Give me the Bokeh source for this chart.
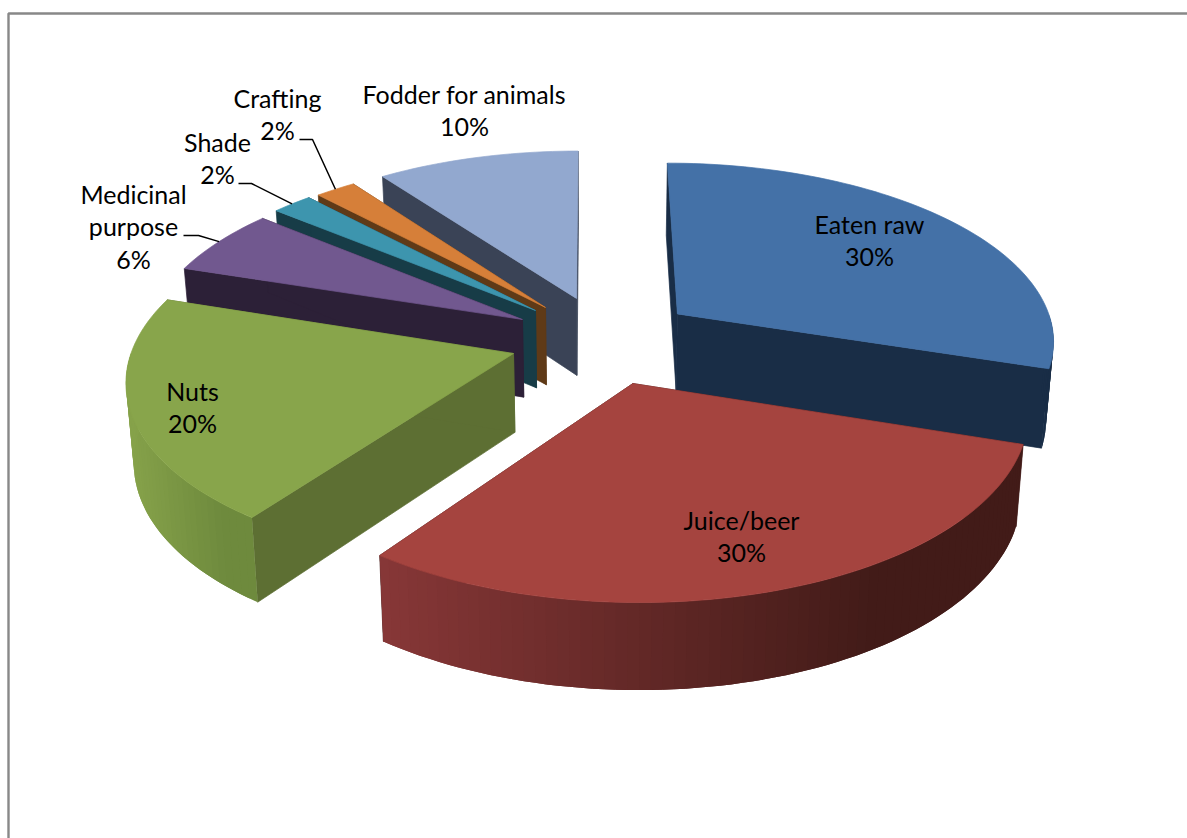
import math

from bokeh.core.properties import value
from bokeh.embed import file_html
from bokeh.models import ColumnDataSource
from bokeh.plotting import figure
from bokeh.resources import INLINE

# Share of each use, clockwise from twelve o'clock
categories = ["Eaten raw", "Juice/beer", "Nuts", "Medicinal purpose", "Shade", "Crafting", "Fodder for animals"]
percent = [30, 30, 20, 6, 2, 2, 10]

# Slice styling and how far each slice is pulled out, in units of the pie radius
top_color = ["#4471A7", "#A5443F", "#88A54B", "#71588F", "#3D95AE", "#D67F39", "#92A8CF"]
cut_color = ["#192D46", "#421B18", "#5D6F33", "#2C2037", "#173C47", "#5F3A17", "#3A4356"]
wall_left = ["#192D46", "#873737", "#86A24A", "#2C2037", "#173C47", "#5F3A17", "#3A4356"]
wall_right = ["#192D46", "#421B18", "#6E8A3D", "#2C2037", "#173C47", "#5F3A17", "#3A4356"]
explode_x = [0.2340, 0.1085, -0.2013, -0.1824, -0.1485, -0.1218, -0.0381]
explode_y = [0.1360, -0.2518, -0.0895, 0.1033, 0.1561, 0.1738, 0.2275]

# Projection of the pie's disc on to the page
CX, CY = 590, 337
RX, RY = 378, 176.6
PERSPECTIVE = 0.1325
WALL_STEP = 1.5  # degrees per wall facet


def project(x, y):
    scale = 1 + PERSPECTIVE * y
    return CX + RX * x / scale, CY - RY * y / scale


def drop(px, py):
    """Where a point of the top face lands on the underside of the pie."""
    return px - (px - 600) * 0.0165, py + 77 + 0.035 * (py - 300)


def rim(i, deg):
    t = math.radians(deg)
    return project(explode_x[i] + math.sin(t), explode_y[i] + math.cos(t))


def hex_mix(a, b, f):
    f = min(1, max(0, f))
    ca = [int(a[k:k + 2], 16) for k in (1, 3, 5)]
    cb = [int(b[k:k + 2], 16) for k in (1, 3, 5)]
    return "#%02x%02x%02x" % tuple(round(u + (v - u) * f) for u, v in zip(ca, cb))


edges = [0.0]
for share in percent:
    edges.append(edges[-1] + share * 3.6)

xs, ys, fills, strokes = [], [], [], []


def add(points, color, stroke=0.0):
    xs.append([q[0] for q in points])
    ys.append([q[1] for q in points])
    fills.append(color)
    strokes.append(stroke)


# Back slices first, the two nearest ones last
for i in [6, 5, 4, 3, 0, 2, 1]:
    a0, a1 = edges[i], edges[i + 1]
    apex = project(explode_x[i], explode_y[i])
    steps = max(2, round((a1 - a0) / WALL_STEP))
    angles = [a0 + (a1 - a0) * k / steps for k in range(steps + 1)]

    for a in (a0, a1):
        r = rim(i, a)
        add([apex, r, drop(*r), drop(*apex)], cut_color[i], 1.0)

    visible = [a for a in angles if math.cos(math.radians(a)) < 0.02]
    if len(visible) > 1:
        px = [rim(i, a)[0] for a in visible]
        xmin, xmax = min(px), max(px)
        # Each facet reaches under the next one so that no seam shows between them
        for n in range(len(visible) - 1):
            run = [rim(i, a) for a in visible[n:n + 3]]
            mid = (run[0][0] + run[1][0]) / 2
            f = 1.3 * (mid - xmin) / max(1, xmax - xmin)
            add(run + [drop(*q) for q in reversed(run)], hex_mix(wall_left[i], wall_right[i], f))

    add([apex] + [rim(i, a) for a in angles], top_color[i], 1.0)

p = figure(width=1187, height=838, x_range=(0, 1187), y_range=(838, 0),
           output_backend="svg", toolbar_location=None, min_border=0)
p.axis.visible = False
p.grid.visible = False
p.outline_line_color = None
p.background_fill_color = "white"

# Frame along the top and left of the page
p.line([8, 8, 1187], [838, 13, 13], line_color="#888888", line_width=2.4)

src = ColumnDataSource(dict(xs=xs, ys=ys, fill=fills, stroke=strokes))
p.patches("xs", "ys", source=src, fill_color="fill", line_color="fill", line_alpha="stroke", line_width=0.7)

# Leader lines run from the label to the middle of the slice's rim
leaders = [(3, [183, 198], 235), (4, [238, 251], 183), (5, [299, 312], 139)]
for i, elbow_x, elbow_y in leaders:
    mx, my = rim(i, (edges[i] + edges[i + 1]) / 2)
    p.line(elbow_x + [mx], [elbow_y, elbow_y, my], line_color="black", line_width=1.5)

label_x = {0: 869, 1: 741, 2: 192, 3: 133, 4: 217, 5: 277, 6: 464}
label_y = {0: 223, 1: 519, 2: 390, 3: 193, 4: 141, 5: 97, 6: 93}
tx, ty, tt = [], [], []
for i, name in enumerate(categories):
    lines = ["Medicinal", "purpose"] if name == "Medicinal purpose" else [name]
    lines.append(f"{percent[i]}%")
    for n, line in enumerate(lines):
        tx.append(label_x[i])
        ty.append(label_y[i] + n * 32.6)
        tt.append(line)
p.text(tx, ty, text=tt, text_font=value("Lato"), text_font_size="25px", text_color="black",
       text_align="center", text_baseline="middle")

open("out.html", "w").write(file_html(p, INLINE))
